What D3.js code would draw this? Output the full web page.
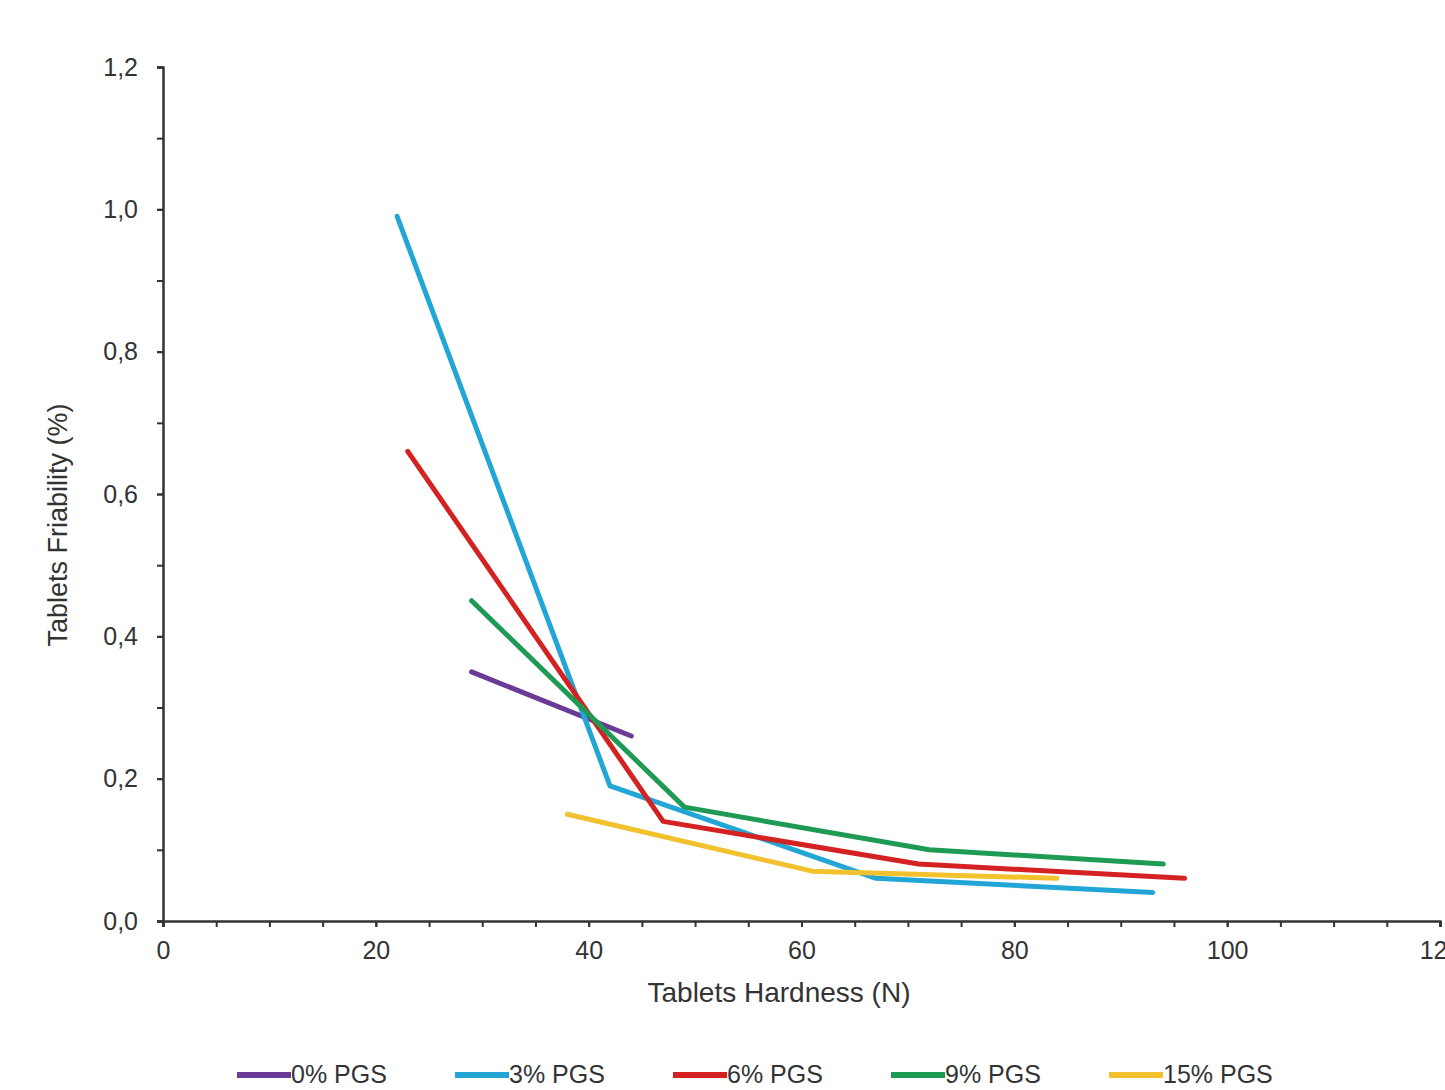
<!DOCTYPE html>
<html>
<head>
<meta charset="utf-8">
<script src="https://cdn.jsdelivr.net/npm/d3@7"></script>
<style>
body{margin:0;background:#fff;}
svg{display:block;font-family:"Liberation Sans",Arial,sans-serif;}
.axis path,.axis line{stroke:#333;stroke-width:2;}
.axis text{fill:#333;font-size:25px;font-family:"Liberation Sans",Arial,sans-serif;}
</style>
</head>
<body>
<svg class="plot"></svg>
<script>
// series names + colours
var seriesNames=["0% PGS","3% PGS","6% PGS","9% PGS","15% PGS"];
var seriesColors=["#6b3a96","#22a6d6","#d42222","#1f9a55","#f2c12e"];

// hardness (N) for each series
var hardness0=[29,44];
var hardness3=[22,42,67,93];
var hardness6=[23,47,71,96];
var hardness9=[29,49,72,94];
var hardness15=[38,61,84];

// friability (%) for each series
var friab0=[0.35,0.26];
var friab3=[0.99,0.19,0.06,0.04];
var friab6=[0.66,0.14,0.08,0.06];
var friab9=[0.45,0.16,0.10,0.08];
var friab15=[0.15,0.07,0.06];

var xTicks=[0,20,40,60,80,100,120];
var yTicks=[0,0.2,0.4,0.6,0.8,1.0,1.2];

var screen=
{
  width:1445,
  height:1090
};
var svg=d3.select("svg.plot")
          .attr("width",screen.width)
          .attr("height",screen.height);

var series=[
  {name:seriesNames[0],x:hardness0,y:friab0},
  {name:seriesNames[1],x:hardness3,y:friab3},
  {name:seriesNames[2],x:hardness6,y:friab6},
  {name:seriesNames[3],x:hardness9,y:friab9},
  {name:seriesNames[4],x:hardness15,y:friab15}
];

var xscale=d3.scaleLinear()
             .domain([0,120])
             .range([163,1440]);
var yscale=d3.scaleLinear()
             .domain([0,1.2])
             .range([921,67]);
var colors=d3.scaleOrdinal()
             .domain(seriesNames)
             .range(seriesColors);

var comma=d3.formatLocale({decimal:",",thousands:".",grouping:[3],currency:["","€"]});
var fmtY=comma.format(".1f");

// minor ticks, no labels
var xAxisMinor=d3.axisBottom(xscale)
                 .tickValues(d3.range(0,121,5))
                 .tickSize(6)
                 .tickFormat("");
var yAxisMinor=d3.axisLeft(yscale)
                 .tickValues(d3.range(0,13).map(function(i){return i/10;}))
                 .tickSize(6)
                 .tickFormat("");
svg.append("g")
   .classed("axis",true)
   .attr("transform","translate(0,921)")
   .call(xAxisMinor);
svg.append("g")
   .classed("axis",true)
   .attr("transform","translate(163,0)")
   .call(yAxisMinor);

// labelled ticks
var xAxis=d3.axisBottom(xscale)
            .tickValues(xTicks)
            .tickSize(6)
            .tickPadding(14);
var yAxis=d3.axisLeft(yscale)
            .tickValues(yTicks)
            .tickSize(6)
            .tickPadding(19)
            .tickFormat(fmtY);
svg.append("g")
   .classed("axis",true)
   .attr("transform","translate(0,921)")
   .call(xAxis);
svg.append("g")
   .classed("axis",true)
   .attr("transform","translate(163,0)")
   .call(yAxis);

var line=d3.line()
           .x(function(d){return xscale(d[0]);})
           .y(function(d){return yscale(d[1]);});

svg.append("g")
   .selectAll("path")
   .data(series)
   .enter()
   .append("path")
   .attr("d",function(d){
     return line(d.x.map(function(v,i){return [v,d.y[i]];}));
   })
   .attr("fill","none")
   .attr("stroke",function(d){return colors(d.name);})
   .attr("stroke-width",5)
   .attr("stroke-linejoin","round")
   .attr("stroke-linecap","round");

svg.append("text")
   .attr("x",779)
   .attr("y",1002)
   .attr("text-anchor","middle")
   .attr("fill","#333")
   .attr("font-size",28)
   .text("Tablets Hardness (N)");
svg.append("text")
   .attr("transform","translate(67,525) rotate(-90)")
   .attr("text-anchor","middle")
   .attr("fill","#333")
   .attr("font-size",27)
   .text("Tablets Friability (%)");

var legend=svg.append("g")
              .classed("legend",true)
              .attr("transform","translate(237,1075)");
var legendline=legend.selectAll("g")
                     .data(series)
                     .enter()
                     .append("g")
                     .attr("transform",function(d,i){
                       return "translate("+(i*218)+",0)";});
legendline.append("line")
          .attr("x1",0)
          .attr("x2",54)
          .attr("y1",0)
          .attr("y2",0)
          .attr("stroke",function(d){return colors(d.name);})
          .attr("stroke-width",6);
legendline.append("text")
          .attr("x",54)
          .attr("y",8)
          .attr("fill","#333")
          .attr("font-size",25)
          .text(function(d){return d.name;});
</script>
</body>
</html>
